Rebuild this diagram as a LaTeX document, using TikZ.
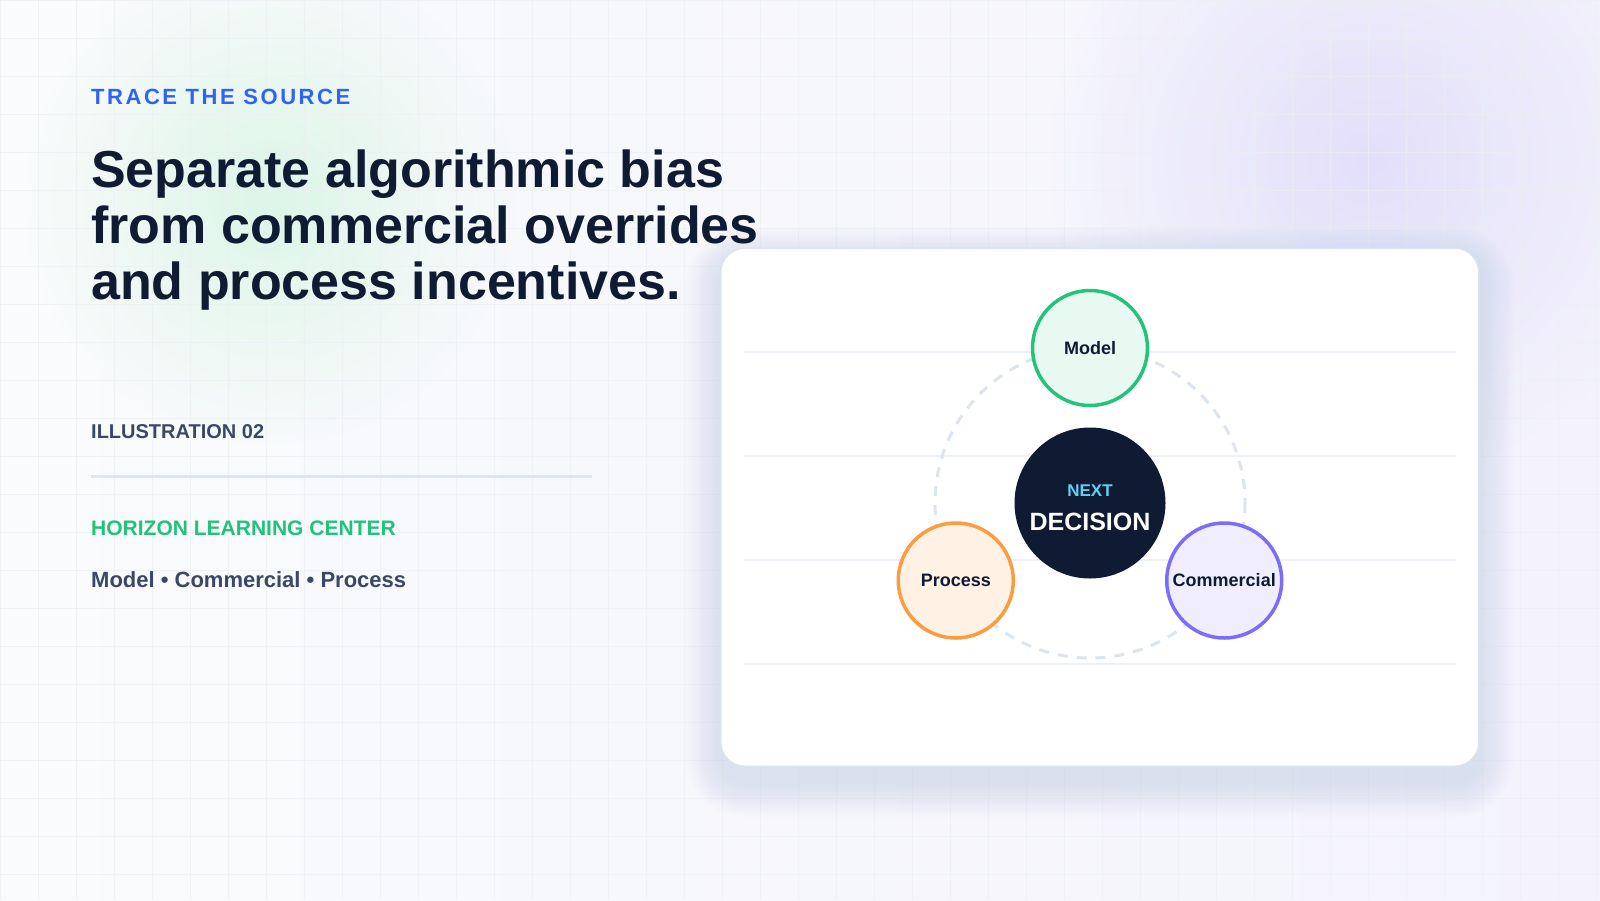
\documentclass[tikz,border=0pt]{standalone}
\usepackage{fontspec}
\setmainfont{Liberation Sans}
\newfontfamily\kickerfont[LetterSpace=11.5]{Liberation Sans}
\usetikzlibrary{fadings}

\definecolor{ink}{HTML}{0F1B33}
\definecolor{slate}{HTML}{3A4865}
\definecolor{kickerblue}{HTML}{2F62F5}
\definecolor{brandgreen}{HTML}{22C27A}
\definecolor{rulegray}{HTML}{E0E6EF}
\definecolor{guidegray}{HTML}{EDF1F5}
\definecolor{ringgray}{HTML}{DCE4ED}
\definecolor{gridgray}{HTML}{EAEFF3}
\definecolor{cardedge}{HTML}{DDE4EC}
\definecolor{shadowblue}{HTML}{5A6888}
\definecolor{sky}{HTML}{62D0F5}
\definecolor{modelgreen}{HTML}{25C27D}
\definecolor{modelfill}{HTML}{E8F9F1}
\definecolor{processorange}{HTML}{FB9C40}
\definecolor{processfill}{HTML}{FFF2E4}
\definecolor{commpurple}{HTML}{7B6CFA}
\definecolor{commfill}{HTML}{EFEDFE}
\definecolor{glowgreen}{HTML}{DCF6E7}
\definecolor{glowpurple}{HTML}{E3DFFA}
\definecolor{bgleft}{HTML}{F9FBFC}
\definecolor{bgright}{HTML}{F4F3FC}

\tikzfading[name=glow, inner color=transparent!0, outer color=transparent!100]

\begin{document}
\begin{tikzpicture}[x=1pt,y=-1pt,
  satellite/.style={circle,minimum size=115pt,line width=3.5pt,text=ink,
    font=\fontsize{18}{20}\selectfont\bfseries},
  guide/.style={line width=2pt,color=guidegray},
  ring/.style={line width=3pt,color=ringgray,dash pattern=on 10pt off 9pt},
  card/.style={rectangle,rounded corners=24pt,fill=white,draw=cardedge,line width=1.5pt},
  lefttext/.style={anchor=base west,inner sep=0pt},
  ]
\useasboundingbox (0,0) rectangle (1600,900);

% background, glows and grid
\shade[left color=bgleft,right color=bgright] (0,0) rectangle (1600,900);
\fill[glowgreen,path fading=glow] (270,200) circle (245);
\fill[glowpurple,path fading=glow] (1370,160) circle (320);
\foreach \gx in {0,38,...,1600} \draw[gridgray,line width=0.8pt,opacity=0.6] (\gx,0) -- (\gx,900);
\foreach \gy in {0,38,...,900} \draw[gridgray,line width=0.8pt,opacity=0.6] (0,\gy) -- (1600,\gy);

% left column
\node[lefttext,text=kickerblue,font=\kickerfont\bfseries\fontsize{22}{26}\selectfont] (kicker) at (91,104) {TRACE THE SOURCE};
\node[lefttext,align=left,text=ink,font=\fontsize{52}{56}\selectfont\bfseries] (title) at (91,299.5)
  {Separate algorithmic bias\\from commercial overrides\\and process incentives.};
\node[lefttext,text=slate,font=\fontsize{20}{24}\selectfont\bfseries] (figno) at (91,438.7) {ILLUSTRATION 02};
\coordinate (rulestart) at (91,476);
\coordinate (ruleend) at (592,476);
\draw[rulegray,line width=3pt] (rulestart) -- (ruleend);
\node[lefttext,text=brandgreen,font=\fontsize{21}{25}\selectfont\bfseries] (brand) at (91,535.3) {HORIZON LEARNING CENTER};
\node[lefttext,text=slate,font=\fontsize{22}{26}\selectfont\bfseries] (tags) at (91,587.3) {Model • Commercial • Process};

% card with soft shadow
\foreach \s [evaluate=\s as \rr using 24+2.5*\s] in {1,...,14}
  \fill[shadowblue,opacity=0.0065,rounded corners=\rr pt] (720.5-2.5*\s,262-2.5*\s) rectangle (1479+2.5*\s,782+2.5*\s);
\node[card,minimum width=758pt,minimum height=518pt] (card) at (1099.75,507.25) {};
\foreach \ly in {351.7,455.5,559.7,663.5} \draw[guide] (744,\ly) -- (1456,\ly);

% cycle
\coordinate (hub) at (1090,503);
\draw[ring] (hub) circle (155);
\node[circle,fill=ink,minimum size=151pt] (decision) at (hub) {};
\node[anchor=base,text=sky,font=\fontsize{17}{20}\selectfont\bfseries] (next) at ([yshift=6.5pt]decision.center) {NEXT};
\node[anchor=base,text=white,font=\fontsize{25}{28}\selectfont\bfseries] (decide) at ([yshift=-27pt]decision.center) {DECISION};
\path (hub) ++(270:155) node[satellite,draw=modelgreen,fill=modelfill] (model) {Model};
\path (hub) ++(150:155) node[satellite,draw=processorange,fill=processfill] (process) {Process};
\path (hub) ++(30:155) node[satellite,draw=commpurple,fill=commfill] (commercial) {Commercial};
\end{tikzpicture}
\end{document}
